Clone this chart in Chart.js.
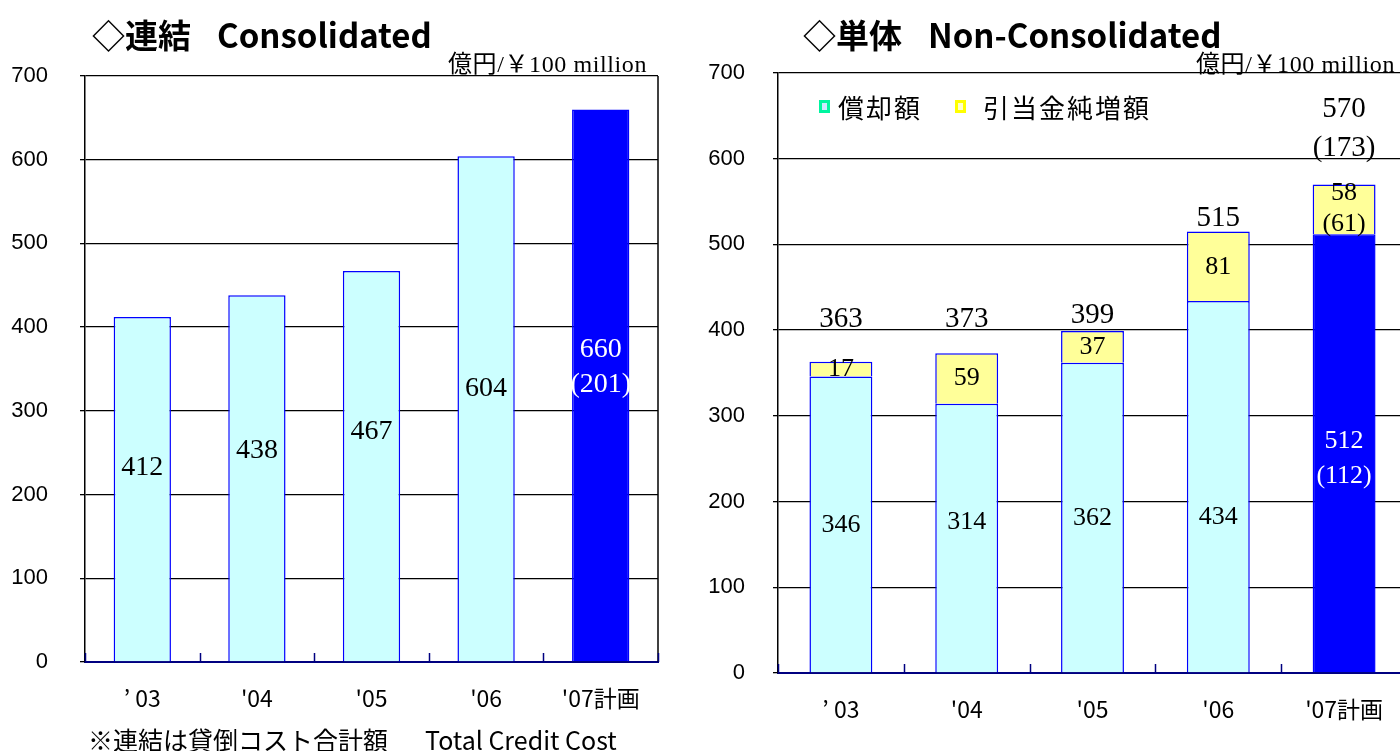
<!DOCTYPE html>
<html><head><meta charset="utf-8">
<script src="https://cdn.jsdelivr.net/npm/chart.js@4/dist/chart.umd.min.js"></script>
<style>
html,body{margin:0;padding:0;background:#fff;width:1400px;height:751px;overflow:hidden;position:relative;}
canvas{position:absolute;top:0;}
.t{position:absolute;white-space:nowrap;color:#000;line-height:1;}
.title{font-family:"Noto Sans CJK JP",sans-serif;font-weight:bold;font-size:33px;}
.unit{font-family:"Liberation Serif","Noto Sans CJK JP",serif;font-size:24px;letter-spacing:0.6px;}
.foot{font-family:"Noto Sans CJK JP",sans-serif;font-size:25px;}
.lg{font-family:"Noto Sans CJK JP",sans-serif;font-size:26px;letter-spacing:2px;}
.mk{position:absolute;width:5px;height:7px;border:3px solid;}
</style>
</head><body>
<canvas id="c1" width="700" height="751" style="left:0;width:700px;height:751px"></canvas>
<canvas id="c2" width="760" height="751" style="left:690px;width:760px;height:751px"></canvas>

<div class="t title" style="left:92px;top:18px">◇連結<span style="margin-left:26px">Consolidated</span></div>
<div class="t title" style="left:803px;top:18px">◇単体<span style="margin-left:26px">Non-Consolidated</span></div>
<div class="t unit" style="right:753px;top:52px">億円/￥100 million</div>
<div class="t unit" style="right:5px;top:52px">億円/￥100 million</div>
<div class="t foot" style="left:88px;top:727px">※連結は貸倒コスト合計額</div>
<div class="t foot" style="left:425px;top:727px">Total Credit Cost</div>

<div class="mk" style="left:819px;top:100px;border-color:#00F5A0;background:#CCE8FF"></div>
<div class="t lg" style="left:838px;top:94px">償却額</div>
<div class="mk" style="left:955px;top:100px;border-color:#FFFF00;background:#FFFFCC"></div>
<div class="t lg" style="left:983px;top:94px">引当金純増額</div>

<script>
// ---------- data ----------
const categories = ["’ 03", "'04", "'05", "'06", "'07計画"];
const yTickValues = [0, 100, 200, 300, 400, 500, 600, 700];

// Consolidated: total credit cost
const consolidatedTotal = [412, 438, 467, 604, 660];
const consolidatedNote  = [null, null, null, null, 201];

// Non-consolidated
const writeOffs         = [346, 314, 362, 434, 512];   // 償却額
const provisionIncrease = [17, 59, 37, 81, 58];        // 引当金純増額
const nonConsTotal      = [363, 373, 399, 515, 570];
const writeOffNote      = [null, null, null, null, 112];
const provisionNote     = [null, null, null, null, 61];
const totalNote         = [null, null, null, null, 173];

// ---------- label placement (value units on the y axis) ----------
const consLabelAt      = [232, 253, 275, 326, 373];
const consNoteAt       = [null, null, null, null, 331];
const writeOffLabelAt  = [173, 176, 181, 182, 270];
const writeOffNoteAt   = [null, null, null, null, 230];
const provLabelAt      = [355, 344, 380, 473, 560];
const provNoteAt       = [null, null, null, null, 524];
const totalLabelAt     = [412, 412, 417, 530, 657];
const totalNoteAt      = [null, null, null, null, 612];

// ---------- styling ----------
const CYAN = '#CCFFFF', BLUE = '#0000FF', YEL = '#FFFF99', NAVY = '#000080';
const planColor = (base) => categories.map((c, i) => i === categories.length - 1 ? BLUE : base);

function makeLabelPlugin(items) {
  return {
    id: 'barLabels',
    afterDatasetsDraw(chart) {
      const ctx = chart.ctx, ys = chart.scales.y;
      ctx.save();
      ctx.textAlign = 'center';
      ctx.textBaseline = 'middle';
      items.forEach(it => {
        if (it.at == null || it.text == null) return;
        const bar = chart.getDatasetMeta(it.ds).data[it.i];
        ctx.font = it.size + 'px "Liberation Serif","Times New Roman",serif';
        ctx.fillStyle = it.color;
        ctx.fillText(it.text, bar.x, ys.getPixelForValue(it.at));
      });
      ctx.restore();
    }
  };
}

const framePlugin = {
  id: 'frame',
  afterDatasetsDraw(chart) {
    const ctx = chart.ctx, a = chart.chartArea;
    const n = chart.data.labels.length;
    const w = (a.right - a.left) / n;
    ctx.save();
    ctx.strokeStyle = '#000';
    ctx.lineWidth = 1.5;
    ctx.beginPath();
    ctx.moveTo(a.right, a.top);
    ctx.lineTo(a.right, a.bottom);
    ctx.stroke();
    ctx.strokeStyle = NAVY;
    ctx.lineWidth = 1.5;
    for (let k = 0; k <= n; k++) {
      const x = Math.round(a.left + k * w) + 0.5;
      ctx.beginPath();
      ctx.moveTo(x, a.bottom);
      ctx.lineTo(x, a.bottom - 9);
      ctx.stroke();
    }
    ctx.restore();
  }
};

function scalesFor(yWidth, xHeight, yPad, stacked) {
  return {
    x: {
      stacked: stacked,
      afterFit: s => { s.height = xHeight; },
      grid: { display: true, drawOnChartArea: false, drawTicks: false },
      border: { display: true, color: NAVY, width: 2 },
      ticks: { color: '#000', padding: 22, font: { family: '"Noto Sans CJK JP", sans-serif', size: 23 } }
    },
    y: {
      stacked: stacked,
      min: 0, max: 700,
      afterFit: s => { s.width = yWidth; },
      afterBuildTicks: s => { s.ticks = yTickValues.map(v => ({ value: v })); },
      grid: { color: '#000', lineWidth: 1.3, tickLength: 5, drawTicks: true },
      border: { display: true, color: '#000', width: 1.5 },
      ticks: { color: '#000', padding: yPad, font: { family: '"Liberation Sans", Arial, sans-serif', size: 22 } }
    }
  };
}

// ---------- consolidated chart ----------
const consItems = [];
categories.forEach((c, i) => {
  const col = i === categories.length - 1 ? '#FFFFFF' : '#000000';
  consItems.push({ ds: 0, i, text: String(consolidatedTotal[i]), at: consLabelAt[i], color: col, size: 28 });
  if (consolidatedNote[i] != null)
    consItems.push({ ds: 0, i, text: '(' + consolidatedNote[i] + ')', at: consNoteAt[i], color: col, size: 28 });
});

new Chart(document.getElementById('c1'), {
  type: 'bar',
  data: {
    labels: categories,
    datasets: [{
      label: '貸倒コスト合計額',
      data: consolidatedTotal,
      backgroundColor: planColor(CYAN),
      borderColor: BLUE,
      borderWidth: 1.5,
      categoryPercentage: 1.0,
      barPercentage: 0.5
    }]
  },
  options: {
    responsive: false,
    animation: false,
    devicePixelRatio: 1,
    layout: { padding: { top: 76, right: 42, left: 0, bottom: 0 } },
    plugins: { legend: { display: false }, tooltip: { enabled: false } },
    scales: scalesFor(85, 89, 32, false)
  },
  plugins: [framePlugin, makeLabelPlugin(consItems)]
});

// ---------- non-consolidated chart ----------
const ncItems = [];
categories.forEach((c, i) => {
  const last = i === categories.length - 1;
  const col = last ? '#FFFFFF' : '#000000';
  ncItems.push({ ds: 0, i, text: String(writeOffs[i]), at: writeOffLabelAt[i], color: col, size: 26 });
  if (writeOffNote[i] != null)
    ncItems.push({ ds: 0, i, text: '(' + writeOffNote[i] + ')', at: writeOffNoteAt[i], color: col, size: 26 });
  ncItems.push({ ds: 1, i, text: String(provisionIncrease[i]), at: provLabelAt[i], color: '#000', size: 26 });
  if (provisionNote[i] != null)
    ncItems.push({ ds: 1, i, text: '(' + provisionNote[i] + ')', at: provNoteAt[i], color: '#000', size: 26 });
  ncItems.push({ ds: 1, i, text: String(nonConsTotal[i]), at: totalLabelAt[i], color: '#000', size: 29 });
  if (totalNote[i] != null)
    ncItems.push({ ds: 1, i, text: '(' + totalNote[i] + ')', at: totalNoteAt[i], color: '#000', size: 29 });
});

new Chart(document.getElementById('c2'), {
  type: 'bar',
  data: {
    labels: categories,
    datasets: [{
      label: '償却額',
      data: writeOffs,
      backgroundColor: planColor(CYAN),
      borderColor: BLUE,
      borderWidth: 1.5,
      categoryPercentage: 1.0,
      barPercentage: 0.5
    }, {
      label: '引当金純増額',
      data: provisionIncrease,
      backgroundColor: YEL,
      borderColor: BLUE,
      borderWidth: 1.5,
      categoryPercentage: 1.0,
      barPercentage: 0.5
    }]
  },
  options: {
    responsive: false,
    animation: false,
    devicePixelRatio: 1,
    layout: { padding: { top: 73, right: 43, left: 0, bottom: 0 } },
    plugins: { legend: { display: false }, tooltip: { enabled: false } },
    scales: scalesFor(88, 78, 28, true)
  },
  plugins: [framePlugin, makeLabelPlugin(ncItems)]
});
</script>
</body></html>
